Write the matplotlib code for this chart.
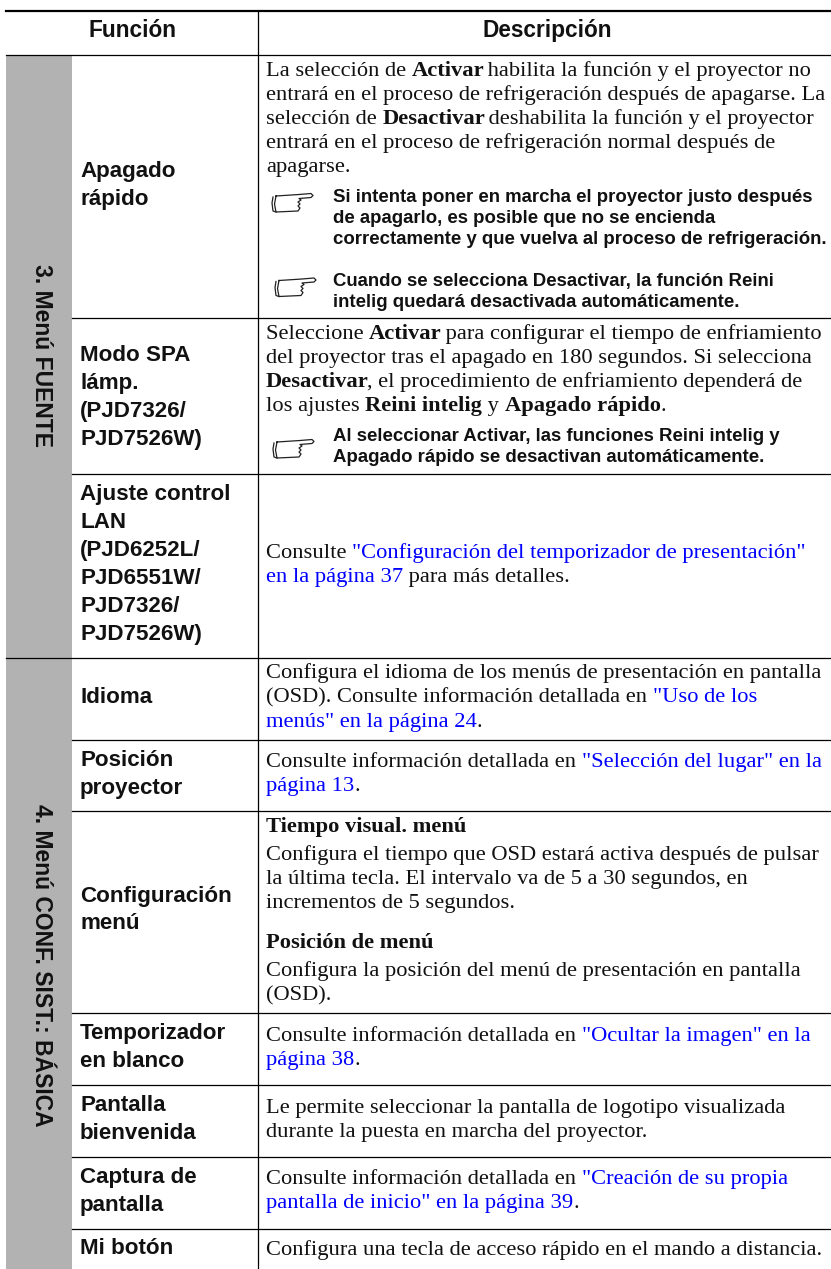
import re
import matplotlib
matplotlib.use('Agg')
import matplotlib.pyplot as plt

# table text. *x* is bold, {x} is a link
headers = ['Función', 'Descripción']
sections = ['3. Menú FUENTE', '4. Menú CONF. SIST.: BÁSICA']

left_labels = [
    ['Apagado', 'rápido'],
    ['Modo SPA', 'lámp.', '(PJD7326/', 'PJD7526W)'],
    ['Ajuste control', 'LAN', '(PJD6252L/', 'PJD6551W/', 'PJD7326/', 'PJD7526W)'],
    ['Idioma'],
    ['Posición', 'proyector'],
    ['Configuración', 'menú'],
    ['Temporizador', 'en blanco'],
    ['Pantalla', 'bienvenida'],
    ['Captura de', 'pantalla'],
    ['Mi botón'],
]
left_y = [
    [177, 205],
    [361, 389, 417, 445],
    [500, 528, 556, 584, 612, 640],
    [703],
    [766, 794],
    [902, 929],
    [1039, 1067],
    [1111, 1139],
    [1183, 1211],
    [1254],
]

body_lines = [
    'La selección de *Activar* habilita la función y el proyector no',
    'entrará en el proceso de refrigeración después de apagarse. La',
    'selección de *Desactivar* deshabilita la función y el proyector',
    'entrará en el proceso de refrigeración normal después de',
    'apagarse.',
    'Seleccione *Activar* para configurar el tiempo de enfriamiento',
    'del proyector tras el apagado en 180 segundos. Si selecciona',
    '*Desactivar*, el procedimiento de enfriamiento dependerá de',
    'los ajustes *Reini intelig* y *Apagado rápido*.',
    'Consulte {"Configuración del temporizador de presentación"}',
    '{en la página 37} para más detalles.',
    'Configura el idioma de los menús de presentación en pantalla',
    '(OSD). Consulte información detallada en {"Uso de los}',
    '{menús" en la página 24}.',
    'Consulte información detallada en {"Selección del lugar" en la}',
    '{página 13}.',
    '*Tiempo visual. menú*',
    'Configura el tiempo que OSD estará activa después de pulsar',
    'la última tecla. El intervalo va de 5 a 30 segundos, en',
    'incrementos de 5 segundos.',
    '*Posición de menú*',
    'Configura la posición del menú de presentación en pantalla',
    '(OSD).',
    'Consulte información detallada en {"Ocultar la imagen" en la}',
    '{página 38}.',
    'Le permite seleccionar la pantalla de logotipo visualizada',
    'durante la puesta en marcha del proyector.',
    'Consulte información detallada en {"Creación de su propia}',
    '{pantalla de inicio" en la página 39}.',
    'Configura una tecla de acceso rápido en el mando a distancia.',
]
body_y = [76, 100, 124, 148, 172, 339, 363, 387, 411, 558, 582, 678, 702, 727,
          767, 791, 832, 860, 884, 908, 948, 976, 1000, 1041, 1065, 1113, 1137,
          1184, 1208, 1255]

note_lines = [
    'Si intenta poner en marcha el proyector justo después',
    'de apagarlo, es posible que no se encienda',
    'correctamente y que vuelva al proceso de refrigeración.',
    'Cuando se selecciona Desactivar, la función Reini',
    'intelig quedará desactivada automáticamente.',
    'Al seleccionar Activar, las funciones Reini intelig y',
    'Apagado rápido se desactivan automáticamente.',
]
note_y = [202, 223, 244, 286, 307, 441, 462]
hand_x = [272, 275, 273]
hand_y = [193, 277.5, 439]

# hand icon outline, px from its top left corner
hand_parts = [
    [(4, 3), (27, 1.5), (39, 0.5), (41, 2.5), (39, 4.5), (27, 5.5), (29, 7), (26, 9),
     (28, 11), (26, 13), (28, 15), (26, 18), (4, 19), (2.5, 11), (4, 3)],
    [(1, 4), (0, 10), (1, 18), (4, 19)],
]

row_lines = [318, 474, 739.5, 811, 1013, 1085, 1157, 1229]
section_line = 658
W, H = 831, 1269

fig = plt.figure(figsize=(W / 100, H / 100), dpi=100)
ax = fig.add_axes([0, 0, 1, 1])
ax.set_xlim(0, W)
ax.set_ylim(H, 0)
ax.axis('off')

ax.fill_between([6, 72], 55, H, color='#b2b2b2', lw=0)

ax.plot([6, W], [11, 11], color='black', lw=1.6)
ax.plot([6, W], [55, 55], color='black', lw=0.9)
ax.plot([6, W], [section_line, section_line], color='black', lw=0.9)
for y in row_lines:
    ax.plot([72, W], [y, y], color='black', lw=0.9)
ax.plot([258, 258], [11, H], color='black', lw=0.9)

SERIF = 'Liberation Serif'
SANS = 'Liberation Sans'
BODY_SIZE = 16.2

ax.text(132, 37, headers[0], family=SANS, weight='bold', size=16.3, ha='center', va='baseline', color='#111111')
ax.text(547.5, 37, headers[1], family=SANS, weight='bold', size=16.3, ha='center', va='baseline', color='#111111')

ax.text(41, 356, sections[0], family=SANS, weight='bold', size=16.5, rotation=-90, ha='center', va='center', color='#111111')
ax.text(41, 965, sections[1], family=SANS, weight='bold', size=16.5, rotation=-90, ha='center', va='center', color='#111111')

for labels, ys in zip(left_labels, left_y):
    for s, y in zip(labels, ys):
        ax.text(80, y, s, family=SANS, weight='bold', size=16.1, va='baseline', color='#111111')

renderer = fig.canvas.get_renderer()


def run_width(s, **kw):
    # the dot keeps trailing spaces in the measure
    a = ax.text(0, 0, s + '.', **kw)
    b = ax.text(0, 0, '.', **kw)
    w = a.get_window_extent(renderer).width - b.get_window_extent(renderer).width
    a.remove()
    b.remove()
    return w


def draw_line(x, y, line):
    for part in re.findall(r'\*[^*]*\*|\{[^}]*\}|[^*{]+', line):
        kw = dict(family=SERIF, size=BODY_SIZE, color='#111111')
        if part[0] == '*':
            part = part[1:-1]
            kw['weight'] = 'bold'
        elif part[0] == '{':
            part = part[1:-1]
            kw['color'] = '#0000ff'
        ax.text(x, y, part, va='baseline', **kw)
        x += run_width(part, **kw)


for line, y in zip(body_lines, body_y):
    draw_line(266, y, line)

for line, y in zip(note_lines, note_y):
    ax.text(333, y, line, family=SANS, weight='bold', size=13.4, va='baseline', color='#111111')

for hx, hy in zip(hand_x, hand_y):
    for part in hand_parts:
        ax.plot([hx + p[0] for p in part], [hy + p[1] for p in part], color='#222222', lw=0.9)

fig.savefig('out.png', dpi=100)
